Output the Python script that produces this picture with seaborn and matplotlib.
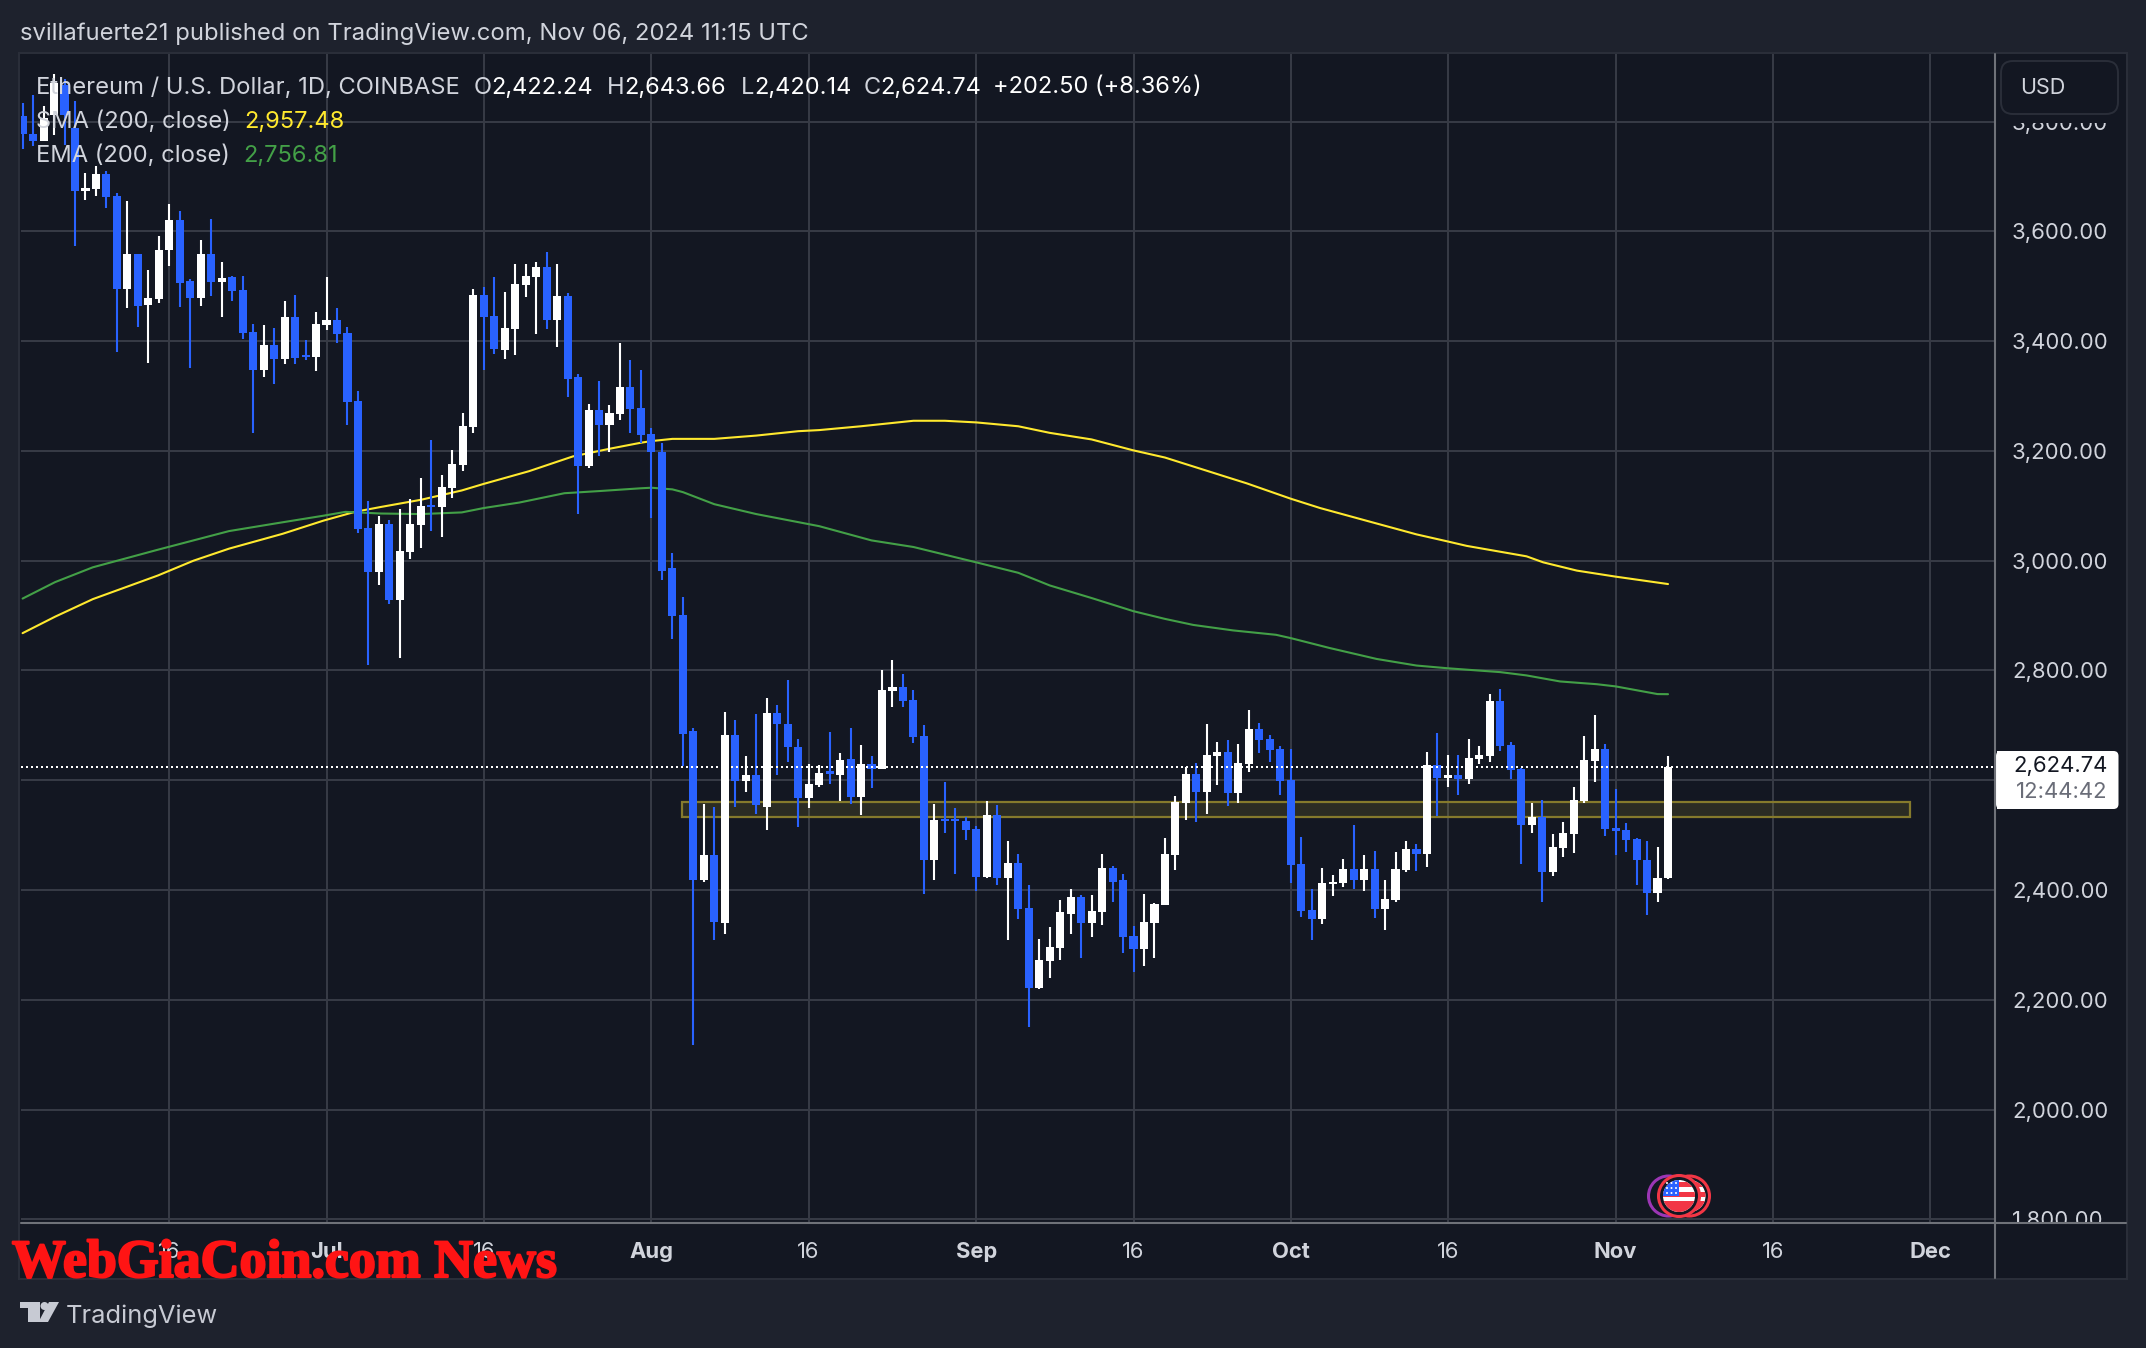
import numpy as np
import pandas as pd
import matplotlib
matplotlib.use('Agg')
import matplotlib.pyplot as plt
import matplotlib.patheffects as pe
import seaborn as sns
from matplotlib.patches import Rectangle, FancyBboxPatch, Circle, Polygon

# Daily candles, day 0 = Aug 1 2024
candle_days = np.arange(-60, 98)

opens = [3810, 3778, 3764, 3813, 3866, 3789, 3674, 3678, 3704, 3664,
         3496, 3559, 3466, 3477, 3566, 3621, 3510, 3478, 3559, 3508,
         3517, 3493, 3417, 3347, 3393, 3367, 3444, 3374, 3371, 3429,
         3439, 3415, 3291, 3059, 2979, 3067, 2928, 3015, 3065, 3101,
         3097, 3132, 3174, 3243, 3484, 3446, 3384, 3423, 3502, 3517,
         3535, 3439, 3482, 3335, 3172, 3274, 3247, 3267, 3316, 3278,
         3230, 3199, 2986, 2902,
         2689, 2419, 2463, 2340, 2683, 2598,
         2610, 2552, 2723, 2703, 2661, 2568, 2592, 2616, 2610, 2638,
         2570, 2630, 2621, 2762, 2769, 2747, 2680, 2455, 2530, 2530,
         2525, 2512, 2424, 2537, 2422, 2450, 2368, 2222, 2271, 2295,
         2357, 2388, 2339, 2360, 2441, 2419, 2317, 2293, 2340, 2373,
         2464, 2559, 2612, 2579, 2644, 2652, 2577, 2630, 2694, 2675,
         2657, 2601, 2447, 2364, 2347, 2411, 2413, 2438, 2418, 2438,
         2365, 2382, 2437, 2475, 2466, 2628, 2604, 2610, 2602, 2639,
         2644, 2745, 2664, 2621, 2519, 2533, 2433, 2477, 2502, 2562,
         2635, 2657, 2513, 2509, 2493, 2455, 2395, 2422.24]

highs = [3834, 3849, 3828, 3886, 3877, 3838, 3707, 3719, 3711, 3670,
         3656, 3559, 3530, 3592, 3650, 3638, 3514, 3585, 3623, 3545,
         3519, 3519, 3431, 3429, 3424, 3473, 3484, 3402, 3453, 3517,
         3461, 3425, 3309, 3108, 3082, 3074, 3095, 3112, 3150, 3220,
         3157, 3201, 3269, 3496, 3498, 3517, 3490, 3541, 3541, 3545,
         3563, 3541, 3488, 3341, 3285, 3327, 3283, 3396, 3366, 3347,
         3241, 3214, 3014, 2933,
         2695, 2556, 2552, 2725, 2709, 2645,
         2720, 2749, 2738, 2782, 2676, 2630, 2627, 2687, 2649, 2696,
         2665, 2645, 2800, 2820, 2793, 2764, 2700, 2556, 2596, 2550,
         2533, 2516, 2563, 2554, 2490, 2466, 2410, 2311, 2333, 2381,
         2401, 2390, 2391, 2466, 2443, 2430, 2335, 2393, 2377, 2495,
         2572, 2624, 2632, 2703, 2670, 2674, 2666, 2728, 2705, 2683,
         2663, 2657, 2497, 2402, 2440, 2427, 2457, 2519, 2464, 2471,
         2418, 2469, 2489, 2484, 2652, 2686, 2646, 2646, 2675, 2663,
         2757, 2767, 2670, 2623, 2559, 2564, 2502, 2524, 2588, 2681,
         2719, 2666, 2584, 2522, 2495, 2489, 2478, 2643.66]

lows = [3750, 3756, 3764, 3776, 3758, 3574, 3658, 3665, 3643, 3380,
        3461, 3426, 3360, 3470, 3537, 3462, 3352, 3464, 3482, 3444,
        3473, 3404, 3233, 3335, 3322, 3359, 3359, 3366, 3346, 3421,
        3396, 3248, 3050, 2810, 2955, 2921, 2822, 3003, 3023, 3054,
        3044, 3114, 3163, 3233, 3347, 3376, 3368, 3375, 3481, 3413,
        3423, 3389, 3298, 3085, 3169, 3191, 3198, 3257, 3232, 3214,
        3078, 2965, 2857, 2626,
        2117, 2415, 2309, 2320, 2552, 2578,
        2539, 2510, 2610, 2634, 2515, 2550, 2588, 2594, 2563, 2556,
        2536, 2585, 2621, 2733, 2734, 2667, 2393, 2419, 2503, 2430,
        2492, 2399, 2422, 2410, 2308, 2348, 2151, 2220, 2240, 2273,
        2320, 2277, 2315, 2337, 2379, 2286, 2251, 2262, 2277, 2373,
        2437, 2528, 2524, 2539, 2592, 2553, 2559, 2615, 2650, 2633,
        2573, 2413, 2351, 2309, 2338, 2389, 2406, 2402, 2398, 2349,
        2327, 2378, 2433, 2435, 2442, 2535, 2588, 2573, 2593, 2630,
        2633, 2654, 2602, 2447, 2504, 2378, 2426, 2460, 2468, 2559,
        2597, 2499, 2464, 2469, 2409, 2354, 2378, 2420.14]

closes = [3778, 3764, 3806, 3871, 3813, 3674, 3679, 3704, 3663, 3496,
          3559, 3464, 3478, 3566, 3621, 3506, 3478, 3559, 3508, 3516,
          3492, 3415, 3347, 3393, 3367, 3444, 3370, 3372, 3432, 3439,
          3413, 3289, 3058, 2979, 3067, 2928, 3018, 3067, 3099, 3098,
          3134, 3176, 3245, 3484, 3444, 3386, 3424, 3504, 3519, 3535,
          3439, 3482, 3332, 3172, 3274, 3247, 3269, 3316, 3277, 3229,
          3198, 2982, 2899, 2685,
          2419, 2463, 2342, 2683, 2598, 2610,
          2554, 2722, 2702, 2660, 2568, 2594, 2614, 2612, 2636, 2570,
          2630, 2621, 2764, 2769, 2745, 2678, 2455, 2528, 2526, 2526,
          2510, 2424, 2537, 2422, 2450, 2366, 2222, 2273, 2297, 2360,
          2388, 2339, 2362, 2441, 2415, 2315, 2293, 2342, 2375, 2466,
          2561, 2612, 2579, 2646, 2652, 2577, 2632, 2694, 2674, 2655,
          2599, 2446, 2362, 2347, 2413, 2415, 2438, 2418, 2438, 2365,
          2384, 2438, 2475, 2466, 2628, 2604, 2610, 2602, 2641, 2646,
          2745, 2663, 2619, 2519, 2533, 2433, 2478, 2504, 2564, 2637,
          2657, 2511, 2508, 2491, 2455, 2395, 2422, 2624.74]

# Moving averages
sma_days = [-60, -56.9, -53.3, -47.1, -43.7, -40.3, -35.2, -31.3, -28.3, -25.8, -22, -18.1,
            -16, -11.7, -7.5, -4, -1, 0, 2, 6, 10, 14, 16, 20, 25, 28, 31, 35, 38, 42, 46, 49,
            55.3, 56.8, 61, 63.8, 68.2, 73, 76, 77.8, 83.5, 85.1, 88.3, 92, 97]
sma_vals = [2868, 2898, 2930, 2973, 3000, 3022, 3049, 3073, 3089, 3098, 3111, 3128,
            3140, 3163, 3190, 3204, 3215, 3218, 3222, 3222, 3228, 3236, 3238, 3245, 3255, 3255, 3252, 3245, 3233, 3221, 3201, 3188,
            3150, 3141, 3113, 3096, 3073, 3048, 3035, 3027, 3008, 2997, 2982, 2971, 2957.48]

ema_days = [-60, -56.9, -53.3, -47.1, -40.3, -35.2, -31.3, -29.2, -25.8, -22, -18.1, -16,
            -12.6, -8.3, -4.9, -1, 0, 2, 3, 6, 10, 16, 21, 25, 31, 35, 38, 42, 46, 49,
            51.7, 55.5, 59.6, 61, 64.7, 69.2, 73, 76, 81, 83.5, 86.7, 90.2, 92, 96, 97]
ema_vals = [2931, 2961, 2988, 3020, 3054, 3070, 3082, 3089, 3086, 3085, 3088, 3096,
            3106, 3123, 3127, 3132, 3133, 3130, 3125, 3103, 3085, 3063, 3037, 3025, 2997, 2978, 2955, 2932, 2908, 2894,
            2883, 2873, 2865, 2859, 2841, 2821, 2809, 2804, 2797, 2791, 2780, 2775, 2771, 2757, 2756.81]

# Axis ticks
price_ticks = [1800, 2000, 2200, 2400, 2600, 2800, 3000, 3200, 3400, 3600, 3800]
date_ticks = [-46, -31, -16, 0, 15, 31, 46, 61, 76, 92, 107, 122]
date_labels = ['16', 'Jul', '16', 'Aug', '16', 'Sep', '16', 'Oct', '16', 'Nov', '16', 'Dec']

# Marked zone and last price
zone_days = [2.9, 120.1]
zone_prices = [2533, 2560.5]
last_price = 2624.74

BG = '#1e222d'
PANE = '#131722'
BORDER = '#2a2e39'
GRID = '#363a45'
AXIS = '#6f7279'
TEXT = '#d1d4dc'
BLUE = '#2962ff'
YELLOW = '#ffe92e'
GREEN = '#43a047'
FLAG_RED = '#f23645'

sns.set_theme(style='dark')
plt.rcParams['font.family'] = ['Inter', 'DejaVu Sans']

W, H = 2146, 1348
fig = plt.figure(figsize=(W / 100, H / 100), dpi=100, facecolor=BG)

# layer under the chart: the axis panels
back = fig.add_axes([0, 0, 1, 1], zorder=0)
back.set_xlim(0, W)
back.set_ylim(H, 0)
back.axis('off')
back.add_patch(Rectangle((19, 52.5), 2107.5, 1226, facecolor=PANE, edgecolor=BORDER, linewidth=1.5))

# the price pane
L, R, T, B = 20.5, 1995, 53.5, 1222.7
ax = fig.add_axes([L / W, 1 - B / H, (R - L) / W, (B - T) / H], zorder=1)
ax.set_facecolor(PANE)
ax.set_xlim(-60.2, 128.2)
ax.set_ylim(1793.8, 3924.2)
for s in ax.spines.values():
    s.set_visible(False)

ax.set_yticks(price_ticks)
ax.set_yticklabels([f'{p:,.2f}' for p in price_ticks])
ax.yaxis.tick_right()
ax.set_xticks(date_ticks)
ax.set_xticklabels(date_labels)
ax.tick_params(axis='y', length=0, pad=12.2, labelsize=15.9, labelcolor=TEXT, labelright=True, labelleft=False)
ax.tick_params(axis='x', length=0, pad=14, labelsize=15.8, labelcolor=TEXT)
for lab in ax.get_xticklabels():
    if not lab.get_text().isdigit():
        lab.set_fontweight('bold')
ax.grid(True, color=GRID, linewidth=1.44)
ax.set_axisbelow(True)

ax.add_patch(Rectangle((zone_days[0], zone_prices[0]), zone_days[1] - zone_days[0], zone_prices[1] - zone_prices[0],
                       facecolor='#ffeb3b', alpha=0.1, edgecolor='none', zorder=1.5))
ax.add_patch(Rectangle((zone_days[0], zone_prices[0]), zone_days[1] - zone_days[0], zone_prices[1] - zone_prices[0],
                       facecolor='none', edgecolor='#857a2c', linewidth=1.6, zorder=1.6))

sns.lineplot(x=sma_days, y=sma_vals, color=YELLOW, linewidth=1.5, ax=ax, zorder=2, errorbar=None)
sns.lineplot(x=ema_days, y=ema_vals, color=GREEN, linewidth=1.5, ax=ax, zorder=2, errorbar=None)

# Candles
df = pd.DataFrame({'day': candle_days, 'open': opens, 'high': highs, 'low': lows, 'close': closes})
df['color'] = np.where(df['close'] >= df['open'], '#ffffff', BLUE)
ax.vlines(df['day'], df['low'], df['high'], colors=df['color'], linewidth=1.5, zorder=3)
ax.bar(df['day'], (df['close'] - df['open']).abs(), bottom=df[['open', 'close']].min(axis=1),
       width=0.77, color=df['color'], linewidth=0, zorder=3.1)

ax.axhline(last_price, color='white', linewidth=1.44, linestyle=(0, (1, 1.5)), zorder=4)
ax.set_xlabel('')
ax.set_ylabel('')

# layer over the chart: labels, buttons, marks, in pixels of the picture
top = fig.add_axes([0, 0, 1, 1], zorder=2)
top.set_xlim(0, W)
top.set_ylim(H, 0)
top.axis('off')
top.patch.set_alpha(0)

# clip the outermost price labels like the app does
top.add_patch(Rectangle((1997, 54), 128, 69, facecolor=PANE, edgecolor='none'))
top.add_patch(Rectangle((1997, 1223), 128, 24, facecolor=PANE, edgecolor='none'))
top.plot([R, R], [T, 1278], color=AXIS, linewidth=1.5)
top.plot([L, 2126], [B, B], color=AXIS, linewidth=1.5)

top.add_patch(FancyBboxPatch((2009, 69), 101, 37, boxstyle='round,pad=8,rounding_size=12',
                             facecolor=PANE, edgecolor=BORDER, linewidth=1.4))
top.text(2020, 88, 'USD', color=TEXT, fontsize=15.5, va='center', ha='left')

# last price label
top.add_patch(FancyBboxPatch((2000, 755), 114.5, 50, boxstyle='round,pad=4,rounding_size=5',
                             facecolor='white', edgecolor='none'))
top.add_patch(Rectangle((1996.5, 751), 10, 58, facecolor='white', edgecolor='none'))
top.text(2107.5, 766, f'{last_price:,.2f}', color='#131722', fontsize=15.9, va='center', ha='right')
top.text(2107.5, 792, '12:44:42', color='#6a6d78', fontsize=15.9, va='center', ha='right')

# header
top.text(20.5, 33.5, 'svillafuerte21 published on TradingView.com, Nov 06, 2024 11:15 UTC',
         color=TEXT, fontsize=17.15, va='center', ha='left')

# chart legend
leg_y = 87.5
top.text(36, leg_y, 'Ethereum / U.S. Dollar, 1D, COINBASE', color=TEXT, fontsize=17.1, va='center')
for x, letter, lx, val in [(474, 'O', 491, '2,422.24'), (607, 'H', 624, '2,643.66'),
                           (741, 'L', 754.5, '2,420.14'), (864, 'C', 880, '2,624.74')]:
    top.text(x, leg_y, letter, color=TEXT, fontsize=17, va='center')
    top.text(lx, leg_y, val, color='white', fontsize=17, va='center')
top.text(993, leg_y, '+202.50 (+8.36%)', color='white', fontsize=17, va='center')
top.text(36, 122, 'SMA (200, close)', color=TEXT, fontsize=17.1, va='center')
top.text(244, 122, '2,957.48', color=YELLOW, fontsize=17, va='center')
top.text(36, 156, 'EMA (200, close)', color=TEXT, fontsize=17.1, va='center')
top.text(243, 156, '2,756.81', color=GREEN, fontsize=17, va='center')


# event marker with the flag
def draw_flag(cx, cy, r):
    disc = Circle((cx, cy), r, facecolor='white', edgecolor='none')
    top.add_patch(disc)
    for sy, sh in [(-14, 5), (-4.5, 5), (5, 5), (10, 8)]:
        stripe = Rectangle((cx - r - 1, cy + sy), 2 * r + 2, sh, facecolor=FLAG_RED, edgecolor='none')
        top.add_patch(stripe)
        stripe.set_clip_path(disc)
    canton = Rectangle((cx - r - 1, cy - r - 1), r + 1, r + 1, facecolor=BLUE, edgecolor='none')
    top.add_patch(canton)
    canton.set_clip_path(disc)
    for sy in [-13, -8, -3]:
        for sx in [-12, -7.5, -3]:
            top.add_patch(Circle((cx + sx, cy + sy), 1, facecolor='white', edgecolor='none'))


top.add_patch(Circle((1668.5, 1196), 20, facecolor=PANE, edgecolor='#9c36b5', linewidth=2.2))
top.add_patch(Circle((1689.5, 1196), 20, facecolor=PANE, edgecolor=FLAG_RED, linewidth=2.2))
draw_flag(1689.5, 1196, 16)
top.add_patch(Circle((1679, 1196), 20.5, facecolor=PANE, edgecolor=FLAG_RED, linewidth=2.2))
draw_flag(1679, 1196, 16)

# TradingView logo and name
logo = '#c7cad3'
top.add_patch(Polygon([(20, 1302), (39.5, 1302), (39.5, 1322), (28, 1322), (28, 1308), (20, 1308)], facecolor=logo, edgecolor='none'))
top.add_patch(Circle((44.5, 1306), 4, facecolor=logo, edgecolor='none'))
top.add_patch(Polygon([(49, 1302), (59, 1302), (48, 1322), (38.5, 1322)], facecolor=logo, edgecolor='none'))
top.text(65.5, 1316, 'TradingView', color=logo, fontsize=18.3, va='center', ha='left')

# watermark
top.text(12, 1277, 'WebGiaCoin.com News', color='#ff1414', fontsize=38.8, fontweight='bold',
         family='Liberation Serif', va='baseline', ha='left',
         path_effects=[pe.withStroke(linewidth=1.6, foreground='#ff1414')])

fig.savefig('out.png', dpi=100, facecolor=BG)
